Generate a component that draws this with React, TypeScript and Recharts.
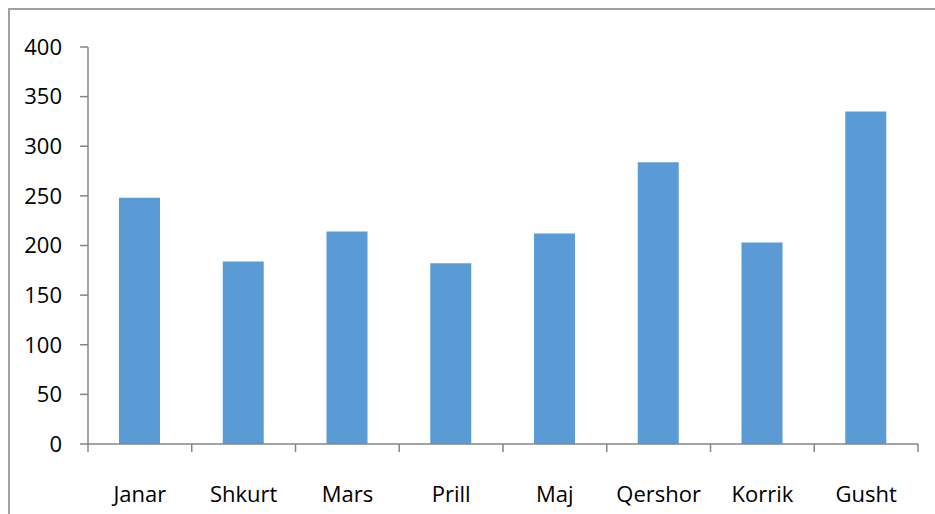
import React from 'react';
import { BarChart, Bar, XAxis, YAxis } from 'recharts';

const months = ['Janar', 'Shkurt', 'Mars', 'Prill', 'Maj', 'Qershor', 'Korrik', 'Gusht'];
const values = [248, 184, 214, 182, 212, 284, 203, 335];
const yTicks = [0, 50, 100, 150, 200, 250, 300, 350, 400];

const data = months.map((m, i) => ({ month: m, value: values[i] }));

const FONT = '"Open Sans", sans-serif';
const AXIS = '#868686';

const MonthTick = (props: any) => {
  const { x, y, payload, index, visibleTicksCount } = props;
  const half = payload.offset || 0;
  const axisY = y - 8 - 34;
  const last = index === visibleTicksCount - 1;
  return (
    <g>
      <line x1={x - half} y1={axisY} x2={x - half} y2={axisY + 8} stroke={AXIS} strokeWidth={1.5} />
      {last && <line x1={x + half} y1={axisY} x2={x + half} y2={axisY + 8} stroke={AXIS} strokeWidth={1.5} />}
      <text x={x} y={y} dy="0.71em" textAnchor="middle" fill="#000" fontSize={22} fontFamily={FONT}>
        {payload.value}
      </text>
    </g>
  );
};

export default function App() {
  return (
    <div
      style={{
        position: 'absolute',
        left: 8,
        top: 8,
        borderLeft: '2px solid #a0a0a0',
        borderTop: '2px solid #a0a0a0',
        width: 925,
        height: 504,
        overflow: 'hidden',
      }}
    >
      <BarChart width={925} height={504} data={data} margin={{ top: 37, right: 17, left: 0, bottom: 0 }}>
        <XAxis
          dataKey="month"
          height={70}
          tickLine={false}
          tickSize={8}
          tickMargin={34}
          axisLine={{ stroke: AXIS, strokeWidth: 1.5 }}
          tick={<MonthTick />}
          interval={0}
        />
        <YAxis
          width={78}
          domain={[0, 400]}
          ticks={yTicks}
          interval={0}
          tickSize={8}
          tickMargin={18}
          axisLine={{ stroke: AXIS, strokeWidth: 1.5 }}
          tickLine={{ stroke: AXIS, strokeWidth: 1.5 }}
          tick={{ fill: '#000', fontSize: 22, fontFamily: FONT }}
        />
        <Bar dataKey="value" fill="#5b9bd5" barSize={41} isAnimationActive={false} />
      </BarChart>
    </div>
  );
}
